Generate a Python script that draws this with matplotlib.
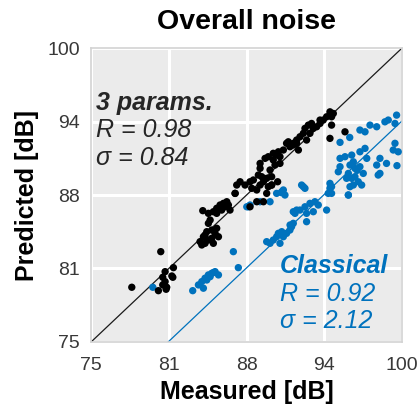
import matplotlib
matplotlib.use("Agg")
import matplotlib.pyplot as plt
import numpy as np

plt.rcParams['font.family'] = ['Liberation Sans', 'DejaVu Sans']

# Measured vs. predicted overall noise level [dB]
params_measured = [
    78.27, 80.60, 81.62, 80.95, 81.49, 81.57, 80.76, 80.95, 80.76, 81.08, 80.41, 81.03,
    84.03, 83.76, 83.90, 84.16, 84.43, 84.70, 84.97, 84.70, 85.10, 84.43, 84.57, 84.16,
    84.30, 84.83, 85.24,
    83.98, 84.43, 84.83, 85.10, 85.37, 85.64, 85.91, 85.50, 85.10, 85.77, 86.04, 86.17,
    86.58, 86.71, 86.58, 86.98, 87.38, 87.78, 88.05, 87.92, 88.32, 88.59, 88.86, 89.12,
    89.25, 88.72, 88.45, 88.59, 88.59, 88.99, 87.78, 88.86, 89.12, 89.52, 88.32,
    89.25, 89.65, 89.92, 90.19, 90.06, 90.46, 90.72, 90.99, 91.26, 91.53, 91.67, 89.39,
    89.79, 90.19, 89.52, 90.00, 89.65, 89.52,
    90.86, 91.26, 91.53, 91.80, 92.07, 92.20, 92.47, 92.73, 92.87, 93.14, 93.41, 93.67,
    93.94, 94.34, 94.21, 94.48, 92.60, 92.33, 94.21, 95.42, 94.34, 93.41,
]
params_predicted = [
    79.65, 82.68, 81.32, 80.98, 80.61, 80.50, 80.50, 80.13, 79.85, 79.65, 79.36, 79.48,
    83.95, 83.53, 83.25, 83.39, 83.67, 83.82, 84.24, 84.52, 84.67, 85.09, 85.37, 84.10,
    84.38, 83.39, 83.95,
    86.17, 85.94, 86.08, 86.37, 86.65, 86.79, 86.93, 86.22, 85.94, 86.50, 86.65, 86.22,
    87.64, 88.35, 87.64, 88.63, 88.35, 88.63, 88.78, 88.07, 87.93, 88.35, 88.63, 88.92,
    88.21, 89.06, 89.20, 89.77, 90.19, 90.62, 86.50, 86.93, 87.64, 88.35, 86.93,
    90.76, 91.05, 90.90, 90.76, 91.18, 91.33, 91.90, 91.61, 91.75, 91.90, 91.33, 89.63,
    90.05, 90.19, 89.06, 88.63, 90.48, 88.35,
    92.03, 91.90, 92.18, 92.46, 92.75, 93.17, 93.45, 93.59, 93.17, 93.31, 93.59, 93.88,
    94.16, 94.16, 94.58, 94.44, 92.75, 92.18, 92.32, 92.88, 93.45, 93.88,
]

classical_measured = [
    79.96, 83.17, 83.63, 83.90, 84.16, 84.43, 84.70, 84.97, 85.24, 84.30, 84.03, 84.57,
    84.83, 86.44, 86.84,
    89.12, 89.39, 89.65, 89.92, 90.06, 90.33, 90.46, 90.72, 90.99, 91.12, 91.26, 91.40,
    91.53, 90.19, 87.78, 88.59, 87.52, 87.65,
    89.39, 89.92, 90.33, 90.59, 91.93, 92.20, 91.26, 91.80, 92.20, 92.60, 93.00, 93.27,
    92.87, 92.33, 93.94, 92.33, 91.00, 94.21, 94.34, 94.21, 95.55, 95.69, 98.09,
    95.02, 96.62, 97.03, 97.43, 97.97, 98.63, 98.90, 99.57, 99.44,
    95.02, 95.42, 95.96, 96.09, 96.62, 97.03, 97.17, 96.62, 96.22, 95.82, 95.02, 94.88,
    95.69, 95.96, 96.22, 96.49, 96.09, 95.82, 96.76, 95.69, 94.34, 94.07, 96.89, 97.97,
    98.23, 98.76, 98.23, 99.44, 99.30, 99.70, 92.07, 90.46, 90.30, 95.80, 96.40, 99.60,
]
classical_predicted = [
    79.65, 79.36, 79.85, 80.13, 80.42, 80.70, 80.84, 80.98, 80.70, 80.27, 79.57, 80.55,
    80.90, 82.68, 81.32,
    83.53, 83.39, 83.67, 83.95, 84.24, 84.38, 83.95, 84.24, 84.52, 84.80, 85.09, 85.94,
    86.22, 83.39, 86.65, 86.93, 86.50, 86.50,
    86.93, 87.64, 87.78, 87.50, 88.35, 88.07, 86.08, 86.22, 86.50, 86.79, 86.93, 86.65,
    86.08, 85.94, 86.22, 85.23, 84.95, 88.07, 87.64, 88.49, 88.92, 87.50, 89.20,
    91.98, 93.03, 92.88, 93.45, 93.31, 93.73, 93.88, 94.30, 93.59,
    90.62, 90.76, 90.90, 90.33, 91.18, 91.47, 90.62, 89.91, 89.77, 90.05, 89.91, 89.48,
    89.34, 88.92, 89.06, 88.63, 88.35, 88.21, 88.35, 87.50, 88.21, 87.64, 89.34, 90.05,
    89.34, 90.19, 90.62, 91.90, 91.33, 91.18, 88.21, 87.93, 87.70, 92.40, 89.60, 90.00,
]

classical_bias = -6.2
axis_limits = [75, 100]
tick_values = np.linspace(75, 100, 5)
tick_labels = ["75", "81", "88", "94", "100"]

black = "#000000"
blue = "#0072BD"

fig = plt.figure(figsize=(4.2, 4.08), dpi=100)
ax = fig.add_axes([0.217, 0.162, 0.740, 0.720])
ax.set_facecolor("#EBEBEB")
for s in ax.spines.values():
    s.set_color("#D3D3D3")
    s.set_linewidth(1.2)

ax.set_xlim(axis_limits)
ax.set_ylim(axis_limits)
ax.set_xticks(tick_values)
ax.set_yticks(tick_values)
ax.set_xticklabels(tick_labels)
ax.set_yticklabels(tick_labels)
ax.tick_params(length=0, labelsize=14, colors="#383838")
ax.tick_params(axis="x", pad=11)
ax.tick_params(axis="y", pad=8)
ax.grid(True, color="white", linewidth=2.2)
ax.set_axisbelow(True)

line_x = np.array(axis_limits, dtype=float)
ax.plot(line_x, line_x, color="#1a1a1a", linewidth=0.9, zorder=2)
ax.plot(line_x, line_x + classical_bias, color=blue, linewidth=0.9, zorder=2)

ax.scatter(classical_measured, classical_predicted, s=28, color=blue,
           edgecolors="none", zorder=3)
ax.scatter(params_measured, params_predicted, s=28, color=black,
           edgecolors="none", zorder=4)

note_size = 18
ax.text(75.4, 95.3, "3 params.", fontsize=note_size, fontweight="bold", style="italic",
        color="#262626", va="center", ha="left")
ax.text(75.4, 93.0, "R = 0.98", fontsize=note_size, style="italic",
        color="#262626", va="center", ha="left")
ax.text(75.4, 90.65, "σ = 0.84", fontsize=note_size, style="italic",
        color="#262626", va="center", ha="left")

ax.text(90.2, 81.46, "Classical", fontsize=note_size, fontweight="bold", style="italic",
        color=blue, va="center", ha="left")
ax.text(90.2, 79.1, "R = 0.92", fontsize=note_size, style="italic",
        color=blue, va="center", ha="left")
ax.text(90.2, 76.8, "σ = 2.12", fontsize=note_size, style="italic",
        color=blue, va="center", ha="left")

ax.set_title("Overall noise", fontsize=20.5, fontweight="bold", pad=14)
ax.set_xlabel("Measured [dB]", fontsize=18, fontweight="bold", labelpad=4)
ax.set_ylabel("Predicted [dB]", fontsize=18, fontweight="bold", labelpad=6)

fig.savefig("out.png", dpi=100)
